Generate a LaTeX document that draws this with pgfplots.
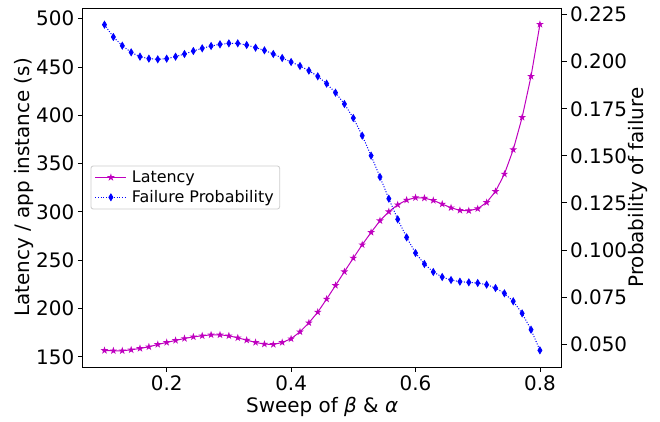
\documentclass[border=0pt]{standalone}
\usepackage{fontspec}
\setmainfont{DejaVu Sans}
\usepackage{pgfplots}
\usepackage{pgfplotstable}
\pgfplotsset{compat=1.18}

\definecolor{mplm}{rgb}{0.75,0,0.75}
\definecolor{mplb}{rgb}{0,0,1}

\pgfdeclareplotmark{mstar}{%
  \pgfpathmoveto{\pgfpointpolar{90}{\pgfplotmarksize}}%
  \pgfpathlineto{\pgfpointpolar{126}{0.382\pgfplotmarksize}}%
  \pgfpathlineto{\pgfpointpolar{162}{\pgfplotmarksize}}%
  \pgfpathlineto{\pgfpointpolar{198}{0.382\pgfplotmarksize}}%
  \pgfpathlineto{\pgfpointpolar{234}{\pgfplotmarksize}}%
  \pgfpathlineto{\pgfpointpolar{270}{0.382\pgfplotmarksize}}%
  \pgfpathlineto{\pgfpointpolar{306}{\pgfplotmarksize}}%
  \pgfpathlineto{\pgfpointpolar{342}{0.382\pgfplotmarksize}}%
  \pgfpathlineto{\pgfpointpolar{18}{\pgfplotmarksize}}%
  \pgfpathlineto{\pgfpointpolar{54}{0.382\pgfplotmarksize}}%
  \pgfpathclose
  \pgfusepathqfillstroke
}
\pgfdeclareplotmark{tdiamond}{%
  \pgfpathmoveto{\pgfqpoint{0pt}{\pgfplotmarksize}}%
  \pgfpathlineto{\pgfqpoint{0.6\pgfplotmarksize}{0pt}}%
  \pgfpathlineto{\pgfqpoint{0pt}{-\pgfplotmarksize}}%
  \pgfpathlineto{\pgfqpoint{-0.6\pgfplotmarksize}{0pt}}%
  \pgfpathclose
  \pgfusepathqfillstroke
}

\pgfplotstableread{
x y
0.1000 156.6
0.1143 156.3
0.1286 156.3
0.1429 157.3
0.1571 158.7
0.1714 160.4
0.1857 162.8
0.2000 164.9
0.2143 167.0
0.2286 169.0
0.2429 170.7
0.2571 171.8
0.2714 172.8
0.2857 172.8
0.3000 171.8
0.3143 169.7
0.3286 167.3
0.3429 164.9
0.3571 163.2
0.3714 162.8
0.3857 164.9
0.4000 168.7
0.4143 175.9
0.4286 185.2
0.4429 196.3
0.4571 209.8
0.4714 223.9
0.4857 238.1
0.5000 252.2
0.5143 266.0
0.5286 278.8
0.5429 290.9
0.5571 300.2
0.5714 307.4
0.5857 312.3
0.6000 314.7
0.6143 314.3
0.6286 311.9
0.6429 308.1
0.6571 304.3
0.6714 301.6
0.6857 301.2
0.7000 303.3
0.7143 309.8
0.7286 321.2
0.7429 339.2
0.7571 364.4
0.7714 397.8
0.7857 440.3
0.8000 494.1
}\lat

\pgfplotstableread{
x y
0.1000 0.21970
0.1143 0.21315
0.1286 0.20854
0.1429 0.20500
0.1571 0.20270
0.1714 0.20164
0.1857 0.20128
0.2000 0.20164
0.2143 0.20270
0.2286 0.20412
0.2429 0.20571
0.2571 0.20713
0.2714 0.20837
0.2857 0.20925
0.3000 0.20978
0.3143 0.20978
0.3286 0.20890
0.3429 0.20748
0.3571 0.20606
0.3714 0.20412
0.3857 0.20199
0.4000 0.19986
0.4143 0.19774
0.4286 0.19526
0.4429 0.19225
0.4571 0.18835
0.4714 0.18357
0.4857 0.17754
0.5000 0.17010
0.5143 0.16072
0.5286 0.15009
0.5429 0.13875
0.5571 0.12724
0.5714 0.11625
0.5857 0.10669
0.6000 0.09836
0.6143 0.09252
0.6286 0.08827
0.6429 0.08561
0.6571 0.08401
0.6714 0.08313
0.6857 0.08277
0.7000 0.08242
0.7143 0.08153
0.7286 0.07976
0.7429 0.07693
0.7571 0.07268
0.7714 0.06630
0.7857 0.05762
0.8000 0.04664
}\fail

\pgfplotsset{
  common/.style={
    at={(82.7bp,55bp)}, anchor=south west,
    scale only axis, width=479bp, height=359bp,
    xmin=0.065, xmax=0.835,
    tick align=outside,
    major tick length=4.9bp,
    every tick/.style={black, line width=0.8bp},
    axis line style={line width=0.8bp, -},
    tick label style={font=\fontsize{20}{24}\selectfont},
    label style={font=\fontsize{20}{24}\selectfont},
    /pgf/number format/assume math mode=true,
  }
}

\begin{document}
\begin{tikzpicture}
\path[use as bounding box] (0,0) rectangle (660bp,422bp);
\begin{axis}[
  common,
  ymin=139.5, ymax=511,
  xtick={0.2,0.4,0.6,0.8},
  ytick={150,200,250,300,350,400,450,500},
  xtick pos=bottom, ytick pos=left,
  xticklabel style={/pgf/number format/.cd, fixed, precision=1, fixed zerofill},
  xlabel={Sweep of {\itshape β} \& {\itshape α}},
  ylabel={Latency / app instance (s)},
  xlabel style={at={(axis description cs:0.5,-0.127)}, anchor=base},
  ylabel style={at={(axis description cs:-0.1225,0.5)}, anchor=center},
]
\addplot[mplm, line width=1bp, mark=mstar, mark size=2.4bp] table[x=x,y=y] {\lat};
\end{axis}
\begin{axis}[
  common,
  ymin=0.03778, ymax=0.22856,
  hide x axis,
  ytick pos=right,
  ytick={0.050,0.075,0.100,0.125,0.150,0.175,0.200,0.225},
  scaled y ticks=false,
  yticklabel style={/pgf/number format/.cd, fixed, fixed zerofill, precision=3},
  ylabel={Probability of failure},
  ylabel style={at={(axis description cs:1.1603,0.5)}, anchor=center},
  legend cell align=left,
  legend style={at={(0.0163,0.5)}, anchor=west, draw=black!20, line width=0.8bp,
    rounded corners=2.5bp, fill=white,
    font=\fontsize{16}{19}\selectfont, inner xsep=4bp, inner ysep=3bp,
    row sep=2.5bp,
    /tikz/every odd column/.append style={column sep=3bp}},
  legend image code/.code={\draw[mark repeat=2,mark phase=2,#1] plot coordinates {(0bp,0bp)(15.5bp,0bp)(31bp,0bp)};},
]
\addlegendimage{mplm, line width=1bp, mark=mstar, mark size=2.4bp}
\addlegendentry{Latency}
\addplot[mplb, line width=1bp, dash pattern=on 1bp off 1.65bp, mark=tdiamond, mark size=3.4bp, mark options={solid, line width=0.8bp}] table[x=x,y=y] {\fail};
\addlegendentry{Failure Probability}
\end{axis}
\end{tikzpicture}
\end{document}
